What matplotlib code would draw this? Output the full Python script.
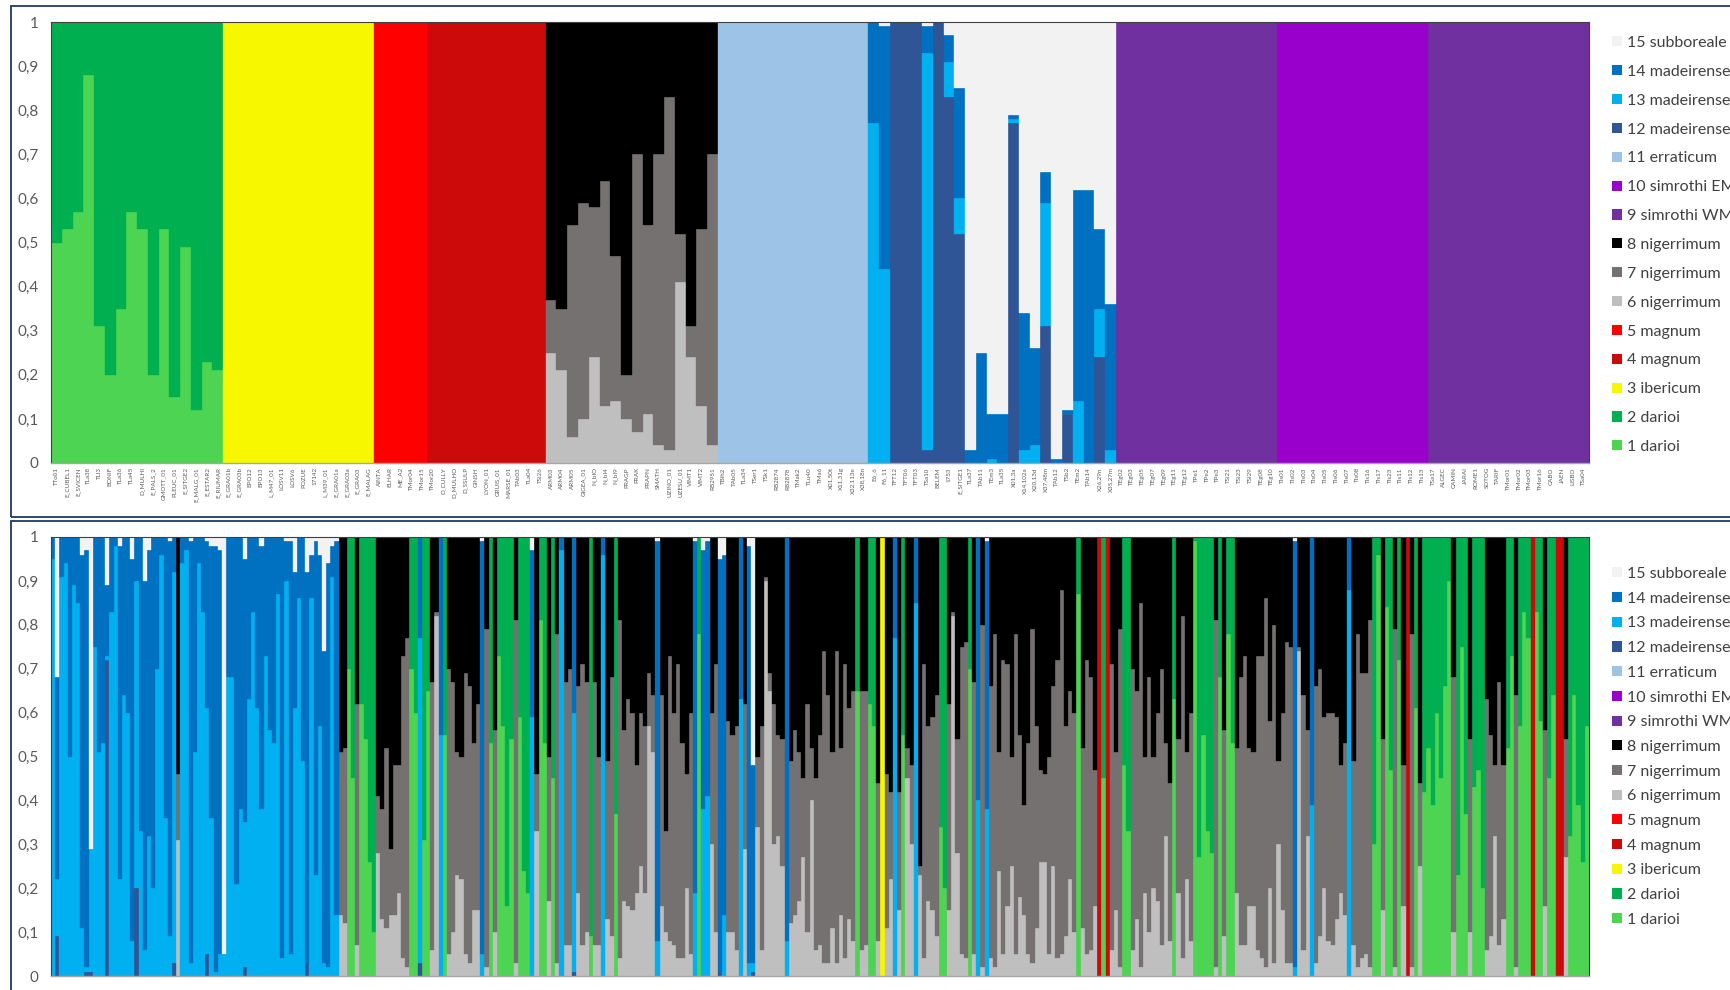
import re
import numpy as np
import matplotlib
matplotlib.use("Agg")
import matplotlib.pyplot as plt
from matplotlib.patches import Patch, Rectangle

plt.rcParams['font.family'] = ['Lato', 'DejaVu Sans']

# ---------------------------
# clusters (1 .. 15), stacked bottom -> top
clusters = ["1 darioi", "2 darioi", "3 ibericum", "4 magnum", "5 magnum",
            "6 nigerrimum", "7 nigerrimum", "8 nigerrimum", "9 simrothi WM",
            "10 simrothi EM", "11 erraticum", "12 madeirense", "13 madeirense",
            "14 madeirense", "15 subboreale"]
colores = ["#4DD452", "#00B050", "#F7F700", "#CC0A0A", "#FF0000",
           "#BFBFBF", "#767171", "#000000", "#7030A0",
           "#9900CC", "#9DC3E6", "#2F5597", "#00B0F0",
           "#0070C0", "#F2F2F2"]
letras = "abcdefghijklmno"   # a = cluster 1 ... o = cluster 15

# each bar: letter + cumulative top (%), last letter fills to 100
top_labels = (
    "TTo01 E_CUBEL1 E_SVICEN TLa38 TLl3 BONIF TLa36 TLa45 D_MULHI E_PALS_2 GMOTT_01 "
    "PLEUC_01 E_SITGE2 E_MALG_01 E_ESTAR2 E_RIUMAR "
    "E_GRA01b E_GRA03b EPO12 EPO13 L_M47_01 LOSV11 LOSV6 POZUE 17142 L_M39_01 "
    "E_GRA01a E_GRA03a E_GRA03 E_MALAG "
    "AINTA ELHAR ME_A2 TMor04 TMor15 "
    "TMor20 D_CULLY D_MULHO D_SSULP GINSH LYON_01 GRUIS_01 MARSE_01 TAb03 TLa04 TSi26 "
    "ARM03 ARM04 ARM05 GIGEA_01 N_bIO N_bI4 N_bI9 PRAGP PRAK PRAPN SMATH UZINO_01 "
    "UZESU_01 VIMT1 VIMT2 RB2951 "
    "TBih2 TAb05 TLa34 TSer1 TSk1 RB2874 RB2878 TMak2 TLu40 TMa6 X01,50t X11,31g "
    "X32,113e X38,18n "
    "E6_6 F6_11 TFT12 TFT06 TFT03 TSa10 BELEM 1753 E_SITGE1 TLa37 TAb11 TEm3 TLa35 "
    "X01,3a X14,102a X20,13d X37,48m TAb12 TSb2 TEm2 TAb14 X26,29n X35,27m "
    "TEg02 TEg03 TEg05 TEg07 TEg09 TEg11 TEg12 TPe1 TPe2 TPe3 TSi21 TSi23 TSi29 TEg08 TEg10 "
    "TIs01 TIs02 TIs03 TIs04 TIs05 TIs06 TIs07 TIs08 TIs16 TIs17 TIs23 TIs11 TIs12 TIs13 "
    "TSa17 ALGEC CAMIN JARAI ROME1 SOTOG TARIF TMor01 TMor02 TMor03 TMor16 CABO JAEN LISBO TSa04"
).split()

top_darioi = "a50b a53b a57b a88b a31b a20b a35b a57b a53b a20b a53b a15b a49b a12b a23b a21b".split()
top_ibericum = ["c"] * 14
top_magnum5 = ["e"] * 5
top_magnum4 = ["d"] * 11
top_nigerrimum = ("f25g37h f21g35h f6g54h f10g59h f24g58h f13g64h f14g47h f10g20h "
                  "f7g70h f11g54h f4g70h f3g83h f41g52h f24g31h f13g53h f4g70h").split()
top_erraticum = ["k"] * 14
top_madeirense = ("m77n m44n99o l l l l3m93n99o l l83m91n97o l52m60n85o n3o n25o m1n11o n11o "
                  "l77m78n79o m3n34o m4n26o l31m59n66o n1o l11n12o m14n62o n62o l24m35n53o "
                  "m3n36o").split()
top_wm1 = ["i"] * 15
top_em = ["j"] * 14
top_wm2 = ["i"] * 15

bot_1 = ("m95n l9m22n68o m91n m94n m50n m89n m85n m11n96o l1m2n97o l1m29o m75n m51n m53n "
         "l72m73n89o m83n m98n m22n98o m64n m60n m8n95o l20m90n m33n m6n90o m32n97o m20n m70n "
         "m96n m36n m9n99o l3m92n f31g46h m94n m97n m3n99o m51n m94n m83n l5m61n99o m36n98o "
         "m1n98o m5n97o m5o m68n m68n m21n m38n l2m35n95o m63n m83n m61n m38n98o m73n m56n "
         "m53n m87n m4n m90n99o m5n99o m61n92o m86n m49n l3n92o").split()
bot_2 = ("m86n96o m23n99o m57n96o m3n74o m2n94o m91n98o m14n99o f14g51h f12g52h a70b a45b "
         "f7g62h a62b a54b a26b a10b f28g41h f13g38h f11g52h f14g29h f14g48h f19g48h f4g73h "
         "f2g77h a70b a60b l3m77n a31b a65b f6g67h f82g83h m55n a55b f5g70h f10g67h f23g51h "
         "f22g50h f5g69h f3g66h f15g53h f15g62h m5n99o f2g79h a53b f10g56h a73b a57b a16b "
         "a54b f3g81h a59b a24b a19b m59n97o f33g46h a81b a53b f17g50h a45b f3g78h m97n").split()
bot_3 = ("f7g67h f7g70h l1m60n f19g66h f7g71h f10g67h a9b f7g67h f7g50h m96n f13g49h f9g68h "
         "a37b f4g81h f17g56h f16g63h f15g60h f19g48h f25g60h f19g57h f57g69h f51g64h m8n99o "
         "f16g64h f10g33h f8g73h f7g60h f4g71h f4g53h f20g46h f5g60h m19n99o a78b m38n97o "
         "m41n99o f30g60h f10g71h l1n95o m14n96o f10g58h f10g55h f6g57h m63n f29g62h m3n98o "
         "l1m3n48o f34g50h f6g57h f90g91h f65g69h f30g62h f32g55h f25g54h m8n f12g49h f14g56h "
         "f17g51h f27g45h f10g62h f40g52h f6g45h").split()
bot_4 = ("f7g55h f3g74h f3g64h f11g51h f3g74h f14g52h f4g71h f13g61h f8g65h a65b f6g65h "
         "f7g65h a62b a57b f8g44h c f11g46h f22g42h m77n f15g42h a55b f45g52h f30g48h m85n "
         "f23g25h f4g71h f17g57h f15g59h f9g64h a34b a20b f15g62h f82g83h f28g54h f5g75h "
         "f4g76h a70b f5g67h m40n f2g80h m38n99o f4g66h f2g78h f24g51h f5g72h f16g71h f25g50h "
         "f5g78h f18g55h f14g39h f5g53h f3g79h f11g57h f26g47h f26g46h f5g50h f25g66h f4g72h "
         "f5g88h f9g57h f22g65h f10g60h").split()
bot_5 = ("a87b f11g52h f5g72h f6g68h f16g47h d a45b d f6g71h f15g51h f2g79h a48b a33b "
         "f6g70h f13g65h f2g85h f19g50h f10g68h f20g50h f17g60h f7g70h f32g53h f8g44h a63b "
         "f19g54h f4g82h f22g51h f8g60h a99b a27b a55b a33b a28b f2g81h a68b f9g56h a78b a53b "
         "f19g52h f7g68h f7g73h f16g52h f16g51h f6g73h f4g73h f2g86h f20g58h f3g80h f30g49h "
         "f15g60h f3g76h f3g75h m2n99o f74g75h f6g64h f32g56h m39n f3g66h f9g70h f20g59h "
         "f8g60h").split()
bot_6 = ("f7g60h f13g59h f19g48h f14g53h m88n f7g49h f2g78h f4g69h f5g69h f2g81h a30b a96b "
         "f15g54h a84b a47b f2g79h a72b f16g48h d f2g78h a61b f25g44h a42b a52b a39b a60b "
         "a45b a66b a90b f10g68h a23b a75b a37b f10g54h a43b a47b a20b f6g63h f9g55h f32g48h "
         "f7g67h f13g48h a52b a73b f2g64h a57b a83b a77b d a83b a58b f16g56h a45b a64b d d "
         "f27g54h a32b a64b a39b a26b a57b").split()


def mezcla(codigos):
    mat = np.zeros((len(codigos), 15))
    for i, cod in enumerate(codigos):
        prev = 0.0
        for letra, num in re.findall(r'([a-o])(\d*)', cod):
            tope = float(num) if num else 100.0
            mat[i, letras.index(letra)] += (tope - prev) / 100
            prev = tope
    return mat


def dibujar(ax, mat, etiquetas=None):
    x = np.arange(len(mat))
    base = np.zeros(len(mat))
    for k in range(15):
        ax.bar(x, mat[:, k], bottom=base, width=1.0, color=colores[k],
               linewidth=0.25, edgecolor=colores[k])
        base += mat[:, k]
    ax.set_xlim(-0.5, len(mat) - 0.5)
    ax.set_ylim(0, 1)
    yt = np.arange(0, 1.01, 0.1)
    ax.set_yticks(yt)
    ax.set_yticklabels([("%.1f" % v).replace(".", ",") if 0 < v < 0.99 else "%d" % round(v)
                        for v in yt])
    ax.tick_params(axis="y", length=0, pad=9, labelsize=11, labelcolor="#595959")
    if etiquetas is None:
        ax.set_xticks([])
    else:
        ax.set_xticks(x)
        ax.set_xticklabels(etiquetas, rotation=90, fontsize=4.5, color="#595959")
        ax.tick_params(axis="x", length=0, pad=3)
    for lado in ["left", "top", "right"]:
        ax.spines[lado].set_color("#404040")
        ax.spines[lado].set_linewidth(0.8)
    ax.spines["bottom"].set_color("#A6A6A6")
    ax.spines["bottom"].set_linewidth(1.0)


fig = plt.figure(figsize=(17.3, 9.9), dpi=100)

top_mat = mezcla(top_darioi + top_ibericum + top_magnum5 + top_magnum4 + top_nigerrimum
                 + top_erraticum + top_madeirense + top_wm1 + top_em + top_wm2)
bot_mat = mezcla(bot_1 + bot_2 + bot_3 + bot_4 + bot_5 + bot_6)

ax1 = fig.add_axes([51 / 1730, 1 - 463 / 990, 1538 / 1730, 441 / 990])
ax2 = fig.add_axes([51 / 1730, 1 - 976 / 990, 1538 / 1730, 439 / 990])
dibujar(ax1, top_mat, top_labels)
dibujar(ax2, bot_mat)

# legends, 15 -> 1
handles = [Patch(facecolor=colores[k], edgecolor="none") for k in range(14, -1, -1)]
nombres = [clusters[k] for k in range(14, -1, -1)]
for ytop, esp in [(1 - 36 / 990, 0.93), (1 - 567 / 990, 0.67)]:
    leg = fig.legend(handles, nombres, loc="upper left", bbox_to_anchor=(1612 / 1730, ytop),
                     frameon=False, fontsize=11.5, handlelength=0.6, handleheight=0.6,
                     handletextpad=0.35, labelspacing=esp, borderpad=0, borderaxespad=0,
                     labelcolor="#404040")

# panel frames
fig.add_artist(Rectangle((11 / 1730, 1 - 517 / 990), 1.0, 511 / 990, transform=fig.transFigure,
                         fill=False, edgecolor="#1F3864", linewidth=1.3))
fig.add_artist(Rectangle((11 / 1730, -0.05), 1.0, 1 - 521 / 990 + 0.05, transform=fig.transFigure,
                         fill=False, edgecolor="#1F3864", linewidth=1.3))

fig.savefig("out.png", dpi=100)
